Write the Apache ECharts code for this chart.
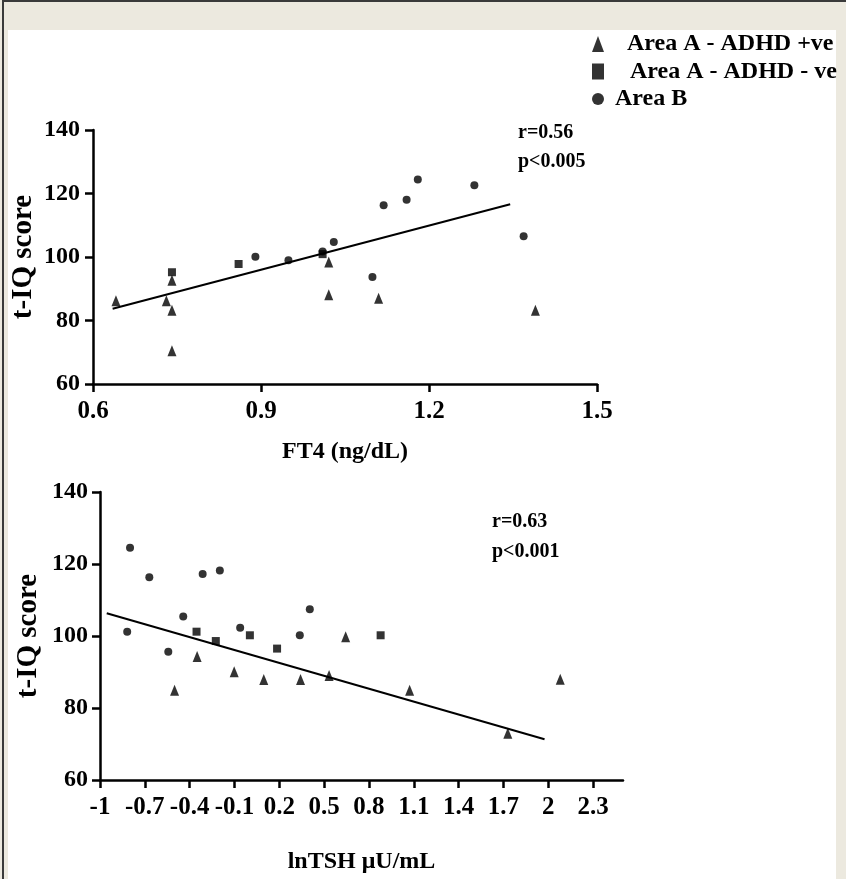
<!DOCTYPE html>
<html>
<head>
<meta charset="utf-8">
<script src="https://cdn.jsdelivr.net/npm/echarts@6/dist/echarts.min.js"></script>
<style>
  html, body { margin: 0; padding: 0; background: #ECE9DF; }
  #frame { position: absolute; left: 2px; top: 0; width: 844px; height: 879px; border-left: 2px solid #3a3a3a; border-top: 2px solid #3a3a3a; box-sizing: border-box; }
  #panel { position: absolute; left: 8px; top: 30px; width: 828px; height: 849px; background: #ffffff; }
  #chart { position: absolute; left: 0; top: 0; width: 846px; height: 879px; }
</style>
</head>
<body>
<div id="frame"></div>
<div id="panel"></div>
<div id="chart"></div>
<script>
// ---------- data ----------
const seriesNames = ['Area A - ADHD +ve', 'Area A - ADHD - ve', 'Area B'];

// Top panel: FT4 (ng/dL) vs t-IQ score
const ft4TriX = [0.641, 0.731, 0.741, 0.741, 0.741, 1.021, 1.021, 1.110, 1.390];
const ft4TriY = [86.2, 86.2, 83.2, 70.5, 92.7, 98.4, 88.1, 87.0, 83.2];
const ft4SqX = [0.741, 0.860, 1.010];
const ft4SqY = [95.2, 97.8, 100.9];
const ft4CirX = [0.890, 0.949, 1.010, 1.030, 1.099, 1.119, 1.160, 1.180, 1.281, 1.369];
const ft4CirY = [100.1, 99.0, 101.7, 104.7, 93.7, 116.3, 118.0, 124.4, 122.6, 106.5];
const ft4FitX = [0.635, 1.345];
const ft4FitY = [83.7, 116.6];

// Bottom panel: lnTSH vs t-IQ score
const tshTriX = [-0.501, -0.350, -0.102, 0.096, 0.342, 0.533, 0.644, 1.072, 1.729, 2.080];
const tshTriY = [84.9, 94.3, 90.1, 87.9, 87.9, 89.0, 99.8, 84.9, 73.0, 88.0];
const tshSqX = [-0.354, -0.225, 0.003, 0.185, 0.878];
const tshSqY = [101.2, 98.6, 100.2, 96.5, 100.2];
const tshCirX = [-0.818, -0.799, -0.670, -0.543, -0.443, -0.313, -0.198, -0.062, 0.337, 0.404];
const tshCirY = [101.2, 124.5, 116.3, 95.6, 105.4, 117.2, 118.2, 102.3, 100.2, 107.4];
const tshFitX = [-0.955, 1.975];
const tshFitY = [106.3, 71.3];

// Tick labels
const iqTicks = [60, 80, 100, 120, 140];
const ft4Ticks = [0.6, 0.9, 1.2, 1.5];
const tshTicks = [-1, -0.7, -0.4, -0.1, 0.2, 0.5, 0.8, 1.1, 1.4, 1.7, 2, 2.3];

// Stats text
const statsTop = ['r=0.56', 'p<0.005'];
const statsBottom = ['r=0.63', 'p<0.001'];

// ---------- helpers ----------
const FONT = '"Liberation Serif", "Times New Roman", serif';
const zip = (xs, ys) => xs.map((x, i) => [x, ys[i]]);
const lineStyle = { color: '#000', width: 2.5 };

function xAxisCfg(gridIndex, min, max, ticks, name, nameGap) {
  return {
    type: 'value', gridIndex, min, max,
    name, nameLocation: 'middle', nameGap, nameMoveOverlap: false,
    nameTextStyle: { fontFamily: FONT, fontWeight: 'bold', fontSize: 24, color: '#000' },
    axisLine: { show: true, onZero: false, lineStyle },
    axisTick: { show: true, length: 8, lineStyle, customValues: ticks },
    axisLabel: { show: true, margin: 15, fontFamily: FONT, fontWeight: 'bold', fontSize: 25, color: '#000',
                 customValues: ticks, formatter: v => String(v) },
    splitLine: { show: false }
  };
}
function yAxisCfg(gridIndex, nameGap, margin) {
  return {
    type: 'value', gridIndex, min: iqTicks[0], max: iqTicks[iqTicks.length - 1], interval: 20,
    name: 't-IQ score', nameLocation: 'middle', nameGap, nameRotate: 90, nameMoveOverlap: false,
    nameTextStyle: { fontFamily: FONT, fontWeight: 'bold', fontSize: 29, color: '#000' },
    axisLine: { show: true, onZero: false, lineStyle },
    axisTick: { show: true, length: 8, lineStyle },
    axisLabel: { show: true, margin, fontFamily: FONT, fontWeight: 'bold', fontSize: 24, color: '#000' },
    splitLine: { show: false }
  };
}
function scatter(name, sym, size, xi, data) {
  return { type: 'scatter', name, symbol: sym, symbolSize: size, xAxisIndex: xi, yAxisIndex: xi,
           itemStyle: { color: '#000' }, data, z: 3 };
}
function fit(xi, data) {
  return { type: 'line', name: 'fit' + xi, xAxisIndex: xi, yAxisIndex: xi, data, showSymbol: false,
           symbol: 'none', lineStyle: { color: '#000', width: 2 }, z: 2, silent: true };
}
function statText(x, y, t) {
  return { type: 'text', left: x, top: y,
           style: { text: t, fontFamily: FONT, fontWeight: 'bold', fontSize: 20, fill: '#000' } };
}

const chart = echarts.init(document.getElementById('chart'), null, { renderer: 'canvas' });
chart.setOption({
  animation: false,
  backgroundColor: 'transparent',
  grid: [
    { left: 93, top: 130, width: 504, height: 254, containLabel: false, outerBoundsMode: 'none' },
    { left: 100, top: 492, width: 523, height: 288, containLabel: false, outerBoundsMode: 'none' }
  ],
  xAxis: [
    xAxisCfg(0, 0.6, 1.5, ft4Ticks, 'FT4 (ng/dL)', 56),
    xAxisCfg(1, -1, 2.5, tshTicks, 'lnTSH \u03bcU/mL', 70)
  ],
  yAxis: [ yAxisCfg(0, 55, 13), yAxisCfg(1, 57, 12) ],
  legend: {
    orient: 'vertical', left: 592, top: 32, padding: 0, itemWidth: 12, itemHeight: 16, itemGap: 3.5,
    selectedMode: false,
    textStyle: { fontFamily: FONT, fontWeight: 'bold', fontSize: 24, color: '#000', lineHeight: 24 },
    data: [
      { name: seriesNames[0], icon: 'triangle', textStyle: { padding: [0, 0, 0, 18] } },
      { name: seriesNames[1], icon: 'rect', textStyle: { padding: [0, 0, 0, 21] } },
      { name: seriesNames[2], icon: 'circle', textStyle: { padding: [0, 0, 0, 6] } }
    ]
  },
  graphic: [
    statText(518, 123, statsTop[0]),
    statText(518, 152, statsTop[1]),
    statText(492, 512, statsBottom[0]),
    statText(492, 542, statsBottom[1])
  ],
  series: [
    fit(0, zip(ft4FitX, ft4FitY)),
    scatter(seriesNames[0], 'triangle', [9, 11], 0, zip(ft4TriX, ft4TriY)),
    scatter(seriesNames[1], 'rect', 8, 0, zip(ft4SqX, ft4SqY)),
    scatter(seriesNames[2], 'circle', 8, 0, zip(ft4CirX, ft4CirY)),
    fit(1, zip(tshFitX, tshFitY)),
    scatter(seriesNames[0], 'triangle', [9, 11], 1, zip(tshTriX, tshTriY)),
    scatter(seriesNames[1], 'rect', 8, 1, zip(tshSqX, tshSqY)),
    scatter(seriesNames[2], 'circle', 8, 1, zip(tshCirX, tshCirY))
  ]
});
</script>
</body>
</html>
